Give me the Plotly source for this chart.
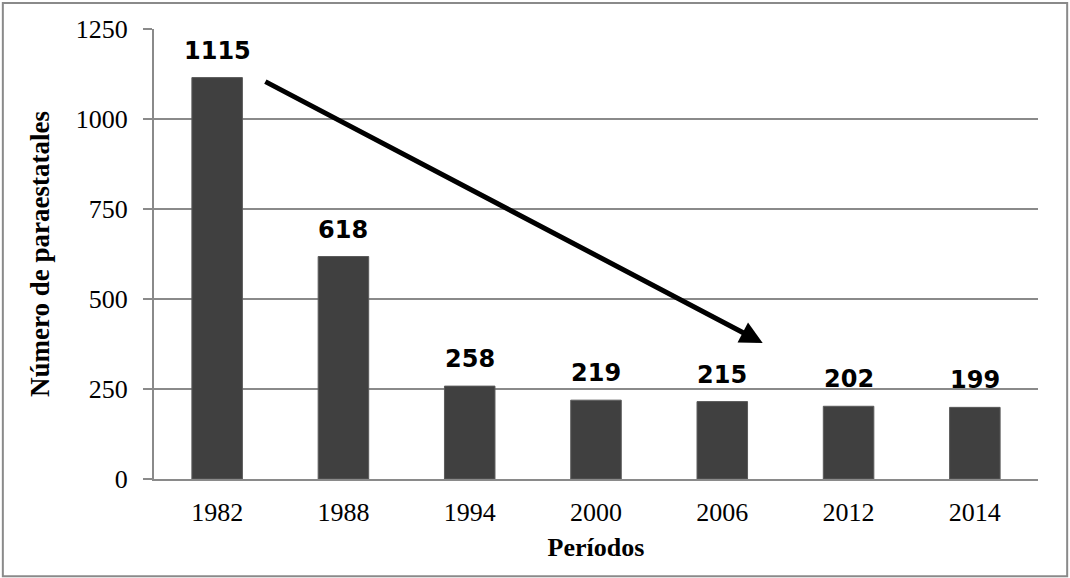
import plotly.graph_objects as go

# Número de entidades paraestatales por periodo
periodos = ["1982", "1988", "1994", "2000", "2006", "2012", "2014"]
paraestatales = [1115, 618, 258, 219, 215, 202, 199]
y_ticks = [0, 250, 500, 750, 1000, 1250]

# trend arrow, in (bar index, value) units
arrow_from = (0.37, 1106)
arrow_to = (4.32, 378)

GRID = "#8a8a8a"
BAR = "#404040"
SERIF = "Liberation Serif, Times New Roman, serif"
SANS = "DejaVu Sans, Verdana, sans-serif"

# numeric positions so the arrow can sit between bars
pos = list(range(len(periodos)))

fig = go.Figure()

fig.add_trace(
    go.Bar(
        x=pos,
        y=paraestatales,
        marker={"color": BAR, "line": {"color": "#5a5a5a", "width": 1}},
        width=0.4,
        customdata=periodos,
        hovertemplate="%{customdata}: %{y}<extra></extra>",
    )
)

# value labels above bars
for p, v in zip(pos, paraestatales):
    fig.add_annotation(
        x=p,
        y=v,
        text=f"<b>{v}</b>",
        showarrow=False,
        yanchor="bottom",
        yshift=11,
        font={"family": SANS, "size": 24, "color": "black"},
    )

fig.add_annotation(
    x=arrow_to[0],
    y=arrow_to[1],
    ax=arrow_from[0],
    ay=arrow_from[1],
    xref="x",
    yref="y",
    axref="x",
    ayref="y",
    text="",
    showarrow=True,
    arrowhead=2,
    arrowsize=0.9,
    arrowwidth=5,
    arrowcolor="black",
)

# outer frame round the whole chart
fig.add_shape(
    type="rect",
    xref="paper",
    yref="paper",
    x0=-0.171,
    x1=1.033,
    y0=-0.216,
    y1=1.058,
    line={"color": GRID, "width": 2},
    layer="below",
)

fig.update_layout(
    width=1070,
    height=578,
    margin={"l": 154, "r": 32, "t": 29, "b": 99},
    plot_bgcolor="white",
    paper_bgcolor="white",
    showlegend=False,
    font={"family": SERIF, "color": "black"},
    xaxis={
        "range": [-0.5, len(periodos) - 0.5],
        "tickvals": pos,
        "ticktext": periodos,
        "showgrid": False,
        "zeroline": False,
        "showline": True,
        "linecolor": GRID,
        "linewidth": 2,
        "ticks": "",
        "tickfont": {"family": SERIF, "size": 26},
        "ticklabelstandoff": 9,
        "title": {
            "text": "<b>Períodos</b>",
            "font": {"family": SERIF, "size": 26},
            "standoff": 12,
        },
    },
    yaxis={
        "range": [0, 1250],
        "tickvals": y_ticks,
        "showgrid": True,
        "gridcolor": GRID,
        "gridwidth": 1.5,
        "showline": True,
        "linecolor": GRID,
        "linewidth": 2,
        "ticks": "outside",
        "ticklen": 9,
        "tickcolor": GRID,
        "tickwidth": 1.5,
        "zeroline": False,
        "tickfont": {"family": SERIF, "size": 26},
        "ticklabelstandoff": 10,
        "title": {
            "text": "<b>Número de paraestatales</b>",
            "font": {"family": SERIF, "size": 27},
            "standoff": 18,
        },
    },
)

# drop the default body margin so the chart fills the window
fig.write_html(
    "out.html",
    config={"displayModeBar": False},
    post_script="document.body.style.margin = '0';",
)
